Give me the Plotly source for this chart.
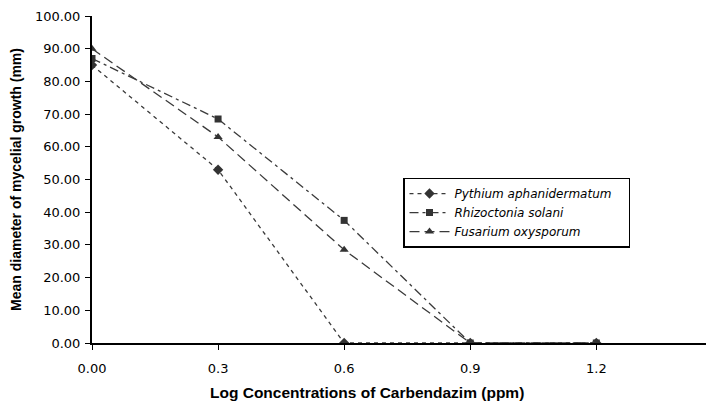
import plotly.graph_objects as go

x_vals = [0.0, 0.3, 0.6, 0.9, 1.2]
x_tick_vals = [0.0, 0.3, 0.6, 0.9, 1.2]
x_tick_text = ["0.00", "0.3", "0.6", "0.9", "1.2"]

pythium = [85.0, 53.0, 0.0, 0.0, 0.0]
rhizoctonia = [87.0, 68.5, 37.5, 0.0, 0.0]
fusarium = [90.0, 63.0, 28.5, 0.0, 0.0]

names = ["<i>Pythium aphanidermatum</i>&nbsp;&nbsp;&nbsp;", "<i>Rhizoctonia solani</i>", "<i>Fusarium oxysporum</i>"]
x_title = "<b>Log Concentrations of Carbendazim (ppm)</b>"
y_title = "<b>Mean diameter of mycelial growth (mm)</b>"

fig = go.Figure()
fig.add_trace(go.Scatter(x=x_vals, y=pythium, name=names[0], mode="lines+markers",
                         line=dict(color="#3a3a3a", width=1.3, dash="4px,4px"),
                         marker=dict(symbol="diamond", size=8, color="#333333")))
fig.add_trace(go.Scatter(x=x_vals, y=rhizoctonia, name=names[1], mode="lines+markers",
                         line=dict(color="#3a3a3a", width=1.3, dash="9px,4px,3px,4px"),
                         marker=dict(symbol="square", size=7, color="#333333")))
fig.add_trace(go.Scatter(x=x_vals, y=fusarium, name=names[2], mode="lines+markers",
                         line=dict(color="#3a3a3a", width=1.3, dash="10px,5px"),
                         marker=dict(symbol="triangle-up", size=8, color="#333333")))

fig.update_layout(
    width=714, height=406,
    margin=dict(l=84, r=8, t=8, b=71),
    paper_bgcolor="white", plot_bgcolor="white",
    font=dict(family="DejaVu Sans", size=13, color="black"),
    showlegend=True,
    legend=dict(x=0.5, y=0.506, xanchor="left", yanchor="top",
                bordercolor="black", borderwidth=1.5, bgcolor="white",
                font=dict(family="DejaVu Sans", size=12), tracegroupgap=0, itemwidth=40),
    annotations=[dict(text=x_title, xref="paper", yref="paper", x=0.442, y=-0.152,
                      xanchor="center", yanchor="middle", showarrow=False,
                      font=dict(family="Liberation Sans", size=15.5))],
)
fig.update_xaxes(range=[0, 1.48], tickvals=x_tick_vals, ticktext=x_tick_text,
                 showline=True, linecolor="black", linewidth=2, ticks="outside",
                 ticklen=5, tickcolor="black", showgrid=False, zeroline=False,
                 automargin=False, tickfont=dict(size=13), ticklabelstandoff=7)
fig.update_yaxes(range=[0, 100], dtick=10, tickformat=".2f",
                 showline=True, linecolor="black", linewidth=2, ticks="outside",
                 ticklen=5, tickcolor="black", showgrid=False, zeroline=False,
                 automargin=False, tickfont=dict(size=13), ticklabelstandoff=2,
                 title=dict(text=y_title,
                            font=dict(family="Liberation Sans", size=14), standoff=17))

fig.write_html("out.html")
